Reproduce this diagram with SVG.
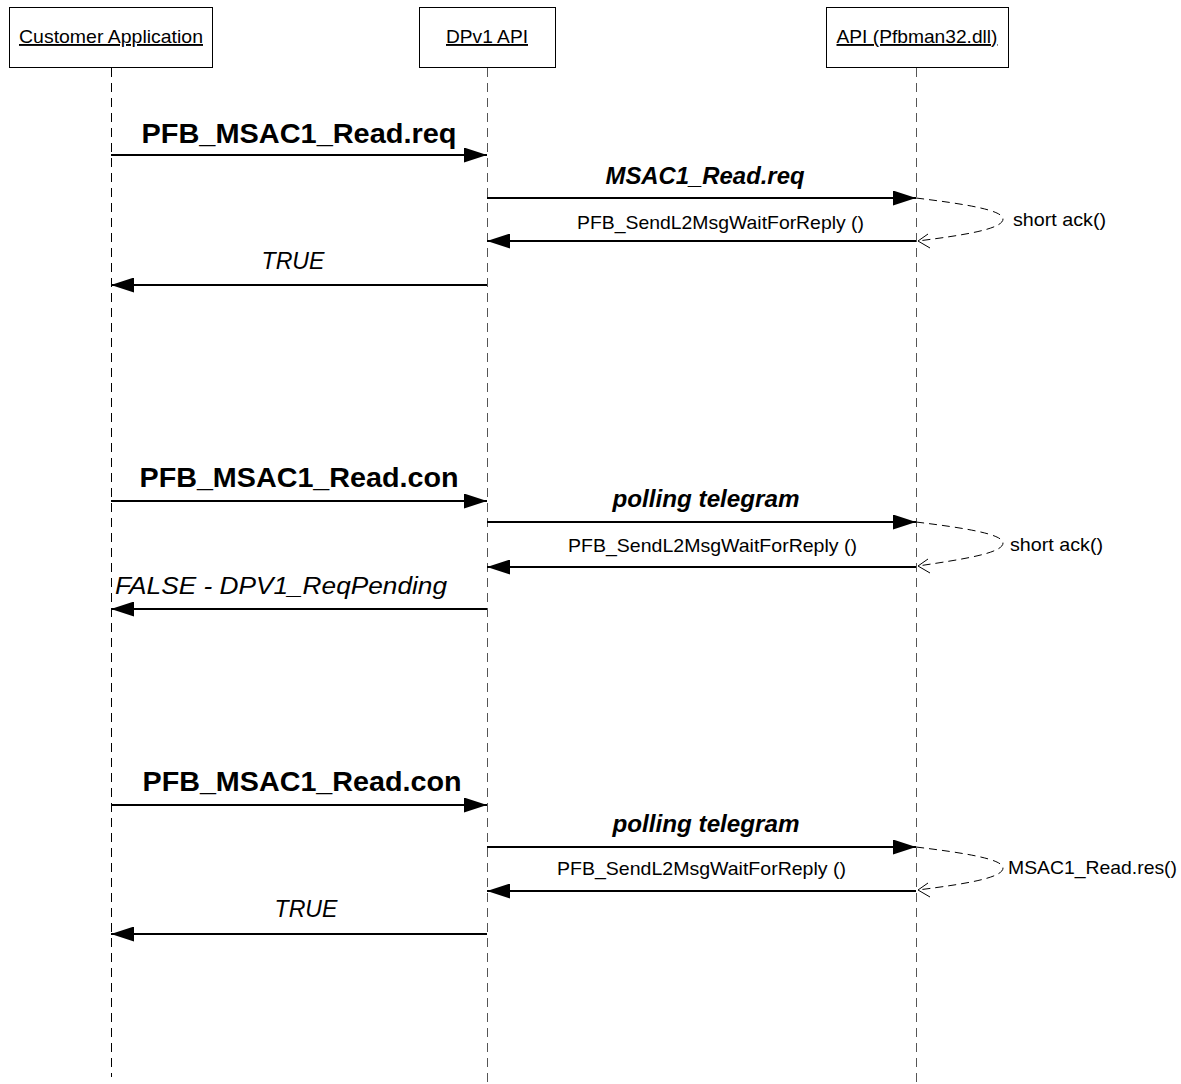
<svg xmlns="http://www.w3.org/2000/svg" width="1181" height="1084" viewBox="0 0 1181 1084">
<style>
.box{fill:#fff;stroke:#000;stroke-width:1}
.hdr{font-family:"Liberation Sans",Arial,sans-serif;font-size:19px;text-decoration:underline;text-anchor:middle}
.life{stroke-width:1;stroke-dasharray:9,6;fill:none}
.msg{stroke:#000;stroke-width:2;fill:none}
.self{stroke:#000;stroke-width:1;stroke-dasharray:8,5;fill:none}
.open{stroke:#000;stroke-width:1;fill:none}
.big{font-family:"Liberation Sans",Arial,sans-serif;font-size:28px;font-weight:bold;text-anchor:middle}
.bi{font-family:"Liberation Sans",Arial,sans-serif;font-size:24px;font-weight:bold;font-style:italic;text-anchor:middle}
.it{font-family:"Liberation Sans",Arial,sans-serif;font-size:23px;font-style:italic;text-anchor:middle}
.reg{font-family:"Liberation Sans",Arial,sans-serif;font-size:19px}
</style>
<defs>
<marker id="ah" viewBox="0 0 23 15" refX="23" refY="7.5" markerWidth="23" markerHeight="15" markerUnits="userSpaceOnUse" orient="auto">
<path d="M0,0 L23,7.5 L0,15 Z" fill="#000"/>
</marker>
</defs>
<rect width="1181" height="1084" fill="#fff"/>
<g id="node-customer">
<rect class="box" x="9.5" y="7.5" width="203" height="60"/>
<text class="hdr" x="111" y="43" textLength="184" lengthAdjust="spacingAndGlyphs">Customer Application</text>
<line class="life" x1="111.5" y1="68" x2="111.5" y2="1077" stroke="#000"/>
</g>
<g id="node-dpv1">
<rect class="box" x="419.5" y="7.5" width="136" height="60"/>
<text class="hdr" x="487" y="43" textLength="82" lengthAdjust="spacingAndGlyphs">DPv1 API</text>
<line class="life" x1="487.5" y1="68" x2="487.5" y2="1084" stroke="#555"/>
</g>
<g id="node-api">
<rect class="box" x="826.5" y="7.5" width="182" height="60"/>
<text class="hdr" x="917" y="43" textLength="161" lengthAdjust="spacingAndGlyphs">API (Pfbman32.dll)</text>
<line class="life" x1="916.5" y1="68" x2="916.5" y2="1084" stroke="#555"/>
</g>
<g id="connectors">
<line class="msg" x1="111" y1="155" x2="487" y2="155" marker-end="url(#ah)"/>
<line class="msg" x1="487" y1="198" x2="916" y2="198" marker-end="url(#ah)"/>
<path class="self" d="M916,198 C965,204 1003,210 1003,219 C1003,229 965,235 918,241"/>
<path class="open" d="M928,234 L918,241 L930,248"/>
<line class="msg" x1="916" y1="241" x2="487" y2="241" marker-end="url(#ah)"/>
<line class="msg" x1="487" y1="285" x2="111" y2="285" marker-end="url(#ah)"/>

<line class="msg" x1="111" y1="501" x2="487" y2="501" marker-end="url(#ah)"/>
<line class="msg" x1="487" y1="522" x2="916" y2="522" marker-end="url(#ah)"/>
<path class="self" d="M916,522 C965,528 1003,534 1003,543 C1003,553 965,559 918,566"/>
<path class="open" d="M928,559 L918,566 L930,573"/>
<line class="msg" x1="916" y1="567" x2="487" y2="567" marker-end="url(#ah)"/>
<line class="msg" x1="487" y1="609" x2="111" y2="609" marker-end="url(#ah)"/>

<line class="msg" x1="111" y1="805" x2="487" y2="805" marker-end="url(#ah)"/>
<line class="msg" x1="487" y1="847" x2="916" y2="847" marker-end="url(#ah)"/>
<path class="self" d="M916,847 C965,853 1003,859 1003,868 C1003,878 965,884 918,890"/>
<path class="open" d="M928,883 L918,890 L930,897"/>
<line class="msg" x1="916" y1="891" x2="487" y2="891" marker-end="url(#ah)"/>
<line class="msg" x1="487" y1="934" x2="111" y2="934" marker-end="url(#ah)"/>
</g>
<g id="labels">
<text class="big" x="299" y="143" textLength="315" lengthAdjust="spacingAndGlyphs">PFB_MSAC1_Read.req</text>
<text class="bi" x="705" y="184" textLength="199" lengthAdjust="spacingAndGlyphs">MSAC1_Read.req</text>
<text class="reg" x="577" y="229" textLength="287" lengthAdjust="spacingAndGlyphs">PFB_SendL2MsgWaitForReply ()</text>
<text class="reg" x="1013" y="226" textLength="93" lengthAdjust="spacingAndGlyphs">short ack()</text>
<text class="it" x="293" y="269" textLength="63" lengthAdjust="spacingAndGlyphs">TRUE</text>

<text class="big" x="299" y="487" textLength="319" lengthAdjust="spacingAndGlyphs">PFB_MSAC1_Read.con</text>
<text class="bi" x="706" y="507" textLength="187" lengthAdjust="spacingAndGlyphs">polling telegram</text>
<text class="reg" x="568" y="552" textLength="289" lengthAdjust="spacingAndGlyphs">PFB_SendL2MsgWaitForReply ()</text>
<text class="reg" x="1010" y="551" textLength="93" lengthAdjust="spacingAndGlyphs">short ack()</text>
<text class="it" x="281" y="594" textLength="332" lengthAdjust="spacingAndGlyphs">FALSE - DPV1_ReqPending</text>

<text class="big" x="302" y="791" textLength="319" lengthAdjust="spacingAndGlyphs">PFB_MSAC1_Read.con</text>
<text class="bi" x="706" y="832" textLength="187" lengthAdjust="spacingAndGlyphs">polling telegram</text>
<text class="reg" x="557" y="875" textLength="289" lengthAdjust="spacingAndGlyphs">PFB_SendL2MsgWaitForReply ()</text>
<text class="reg" x="1008" y="874" textLength="169" lengthAdjust="spacingAndGlyphs">MSAC1_Read.res()</text>
<text class="it" x="306" y="917" textLength="63" lengthAdjust="spacingAndGlyphs">TRUE</text>
</g>
</svg>
